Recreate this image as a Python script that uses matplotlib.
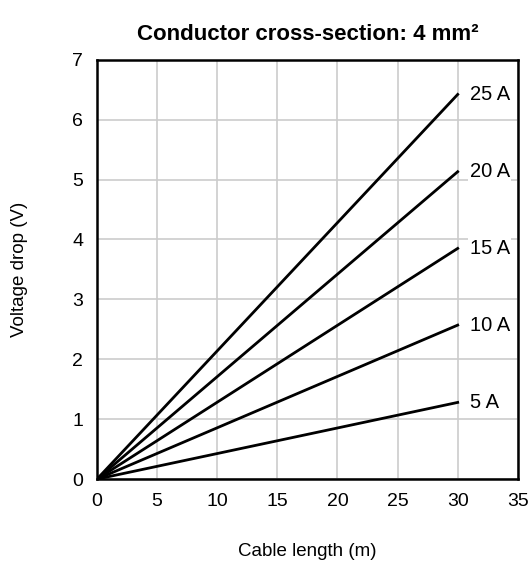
import matplotlib.pyplot as plt

plt.rcParams['font.family'] = ['Liberation Sans', 'DejaVu Sans']

# cable length (m) and voltage drop (V) at each current
lengths = [0, 30]
currents = ['5 A', '10 A', '15 A', '20 A', '25 A']
drops = {
    '5 A': [0, 1.28],
    '10 A': [0, 2.57],
    '15 A': [0, 3.85],
    '20 A': [0, 5.13],
    '25 A': [0, 6.42],
}

fig = plt.figure(figsize=(5.28, 5.63), dpi=100)
ax = fig.add_axes([0.1837, 0.149, 0.797, 0.745])

for c in currents:
    ax.plot(lengths, drops[c], color='black', lw=2, zorder=3)
    ax.text(lengths[-1] + 1.0, drops[c][-1], c, fontsize=14.5, va='center', ha='left',
            bbox=dict(facecolor='white', edgecolor='none', pad=1), zorder=4)

ax.set_xlim(0, 35)
ax.set_ylim(0, 7)
ax.set_xticks(range(0, 36, 5))
ax.set_yticks(range(0, 8))
ax.grid(True, color='#cccccc', lw=1.2)
ax.set_axisbelow(True)
ax.tick_params(length=0, labelsize=14, pad=10)
for s in ax.spines.values():
    s.set_linewidth(1.8)

ax.set_xlabel('Cable length (m)', fontsize=13.5, labelpad=24)
ax.set_ylabel('Voltage drop (V)', fontsize=13.5, labelpad=32)
ax.set_title('Conductor cross-section: 4 mm²', fontsize=16, fontweight='bold', pad=14)

fig.savefig('out.png', dpi=100)
